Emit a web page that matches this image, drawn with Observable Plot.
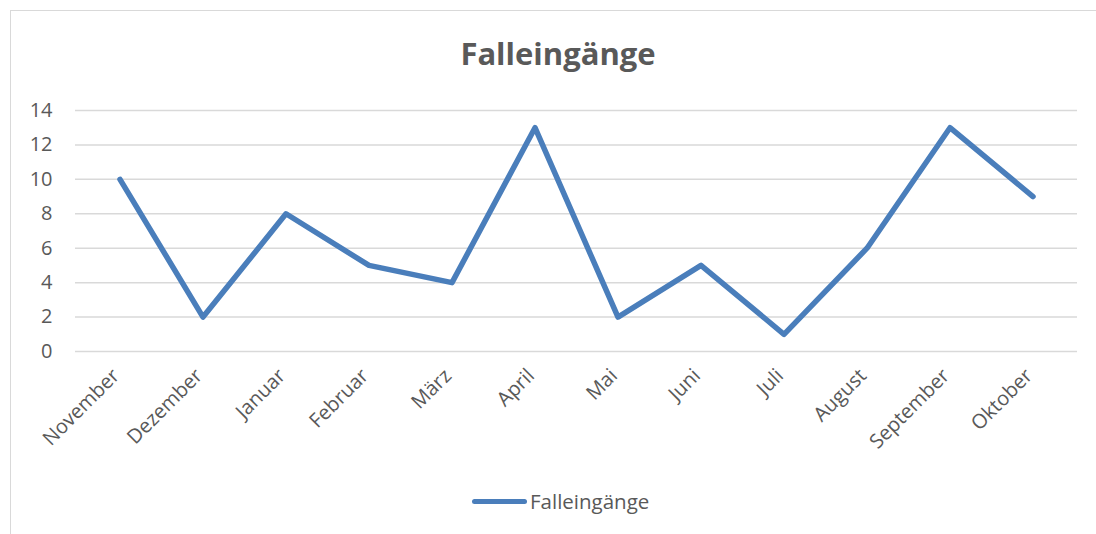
<!DOCTYPE html>
<html>
<head>
<meta charset="utf-8">
<script src="https://cdn.jsdelivr.net/npm/d3@7"></script>
<script src="https://cdn.jsdelivr.net/npm/@observablehq/plot@0.6"></script>
<style>
  html, body { margin: 0; padding: 0; background: #fff; }
  #wrap { position: relative; width: 1096px; height: 534px; overflow: hidden; font-family: "Open Sans", sans-serif; }
  #frame { position: absolute; left: 10px; top: 10px; width: 1100px; height: 540px; border-left: 1.5px solid #d9d9d9; border-top: 1.5px solid #d9d9d9; box-sizing: border-box; }
  #title { position: absolute; left: 0; width: 1116px; top: 32px; text-align: center; font-size: 31px; font-weight: bold; color: #595959; }
  #chart { position: absolute; left: 0; top: 0; }
  #legend { position: absolute; top: 487px; left: 472px; display: flex; align-items: center; font-size: 20.5px; color: #595959; }
  #legend .sw { width: 55px; height: 5px; border-radius: 3px; background: #4a7ebb; margin-right: 3px; }
</style>
</head>
<body>
<div id="wrap">
  <div id="frame"></div>
  <div id="chart"></div>
  <div id="title">Falleingänge</div>
  <div id="legend"><div class="sw"></div><span>Falleingänge</span></div>
</div>
<script>
const months = ["November","Dezember","Januar","Februar","März","April","Mai","Juni","Juli","August","September","Oktober"];
const values = [10, 2, 8, 5, 4, 13, 2, 5, 1, 6, 13, 9];
const yTicks = [0, 2, 4, 6, 8, 10, 12, 14];
const seriesName = "Falleingänge";

const data = months.map((m, i) => ({month: m, value: values[i]}));

const plot = Plot.plot({
  width: 1096,
  height: 470,
  marginLeft: 75,
  marginRight: 19,
  marginTop: 110,
  marginBottom: 119,
  style: {fontFamily: "Open Sans, sans-serif", fontSize: "20px", color: "#595959", background: "transparent"},
  x: {type: "band", domain: months, padding: 0, label: null},
  y: {domain: [0, 14], label: null},
  marks: [
    Plot.gridY(yTicks, {stroke: "#d9d9d9", strokeOpacity: 1, strokeWidth: 1.5}),
    Plot.axisY(yTicks, {tickSize: 0, tickPadding: 23, fontSize: 20, fill: "#595959"}),
    Plot.axisX({tickSize: 0, tickPadding: 21, dx: -4, tickRotate: -45, fontSize: 20, fill: "#595959"}),
    Plot.line(data, {x: "month", y: "value", stroke: "#4a7ebb", strokeWidth: 5.5, strokeLinejoin: "round", strokeLinecap: "round"})
  ]
});
document.getElementById("chart").appendChild(plot);
</script>
</body>
</html>
